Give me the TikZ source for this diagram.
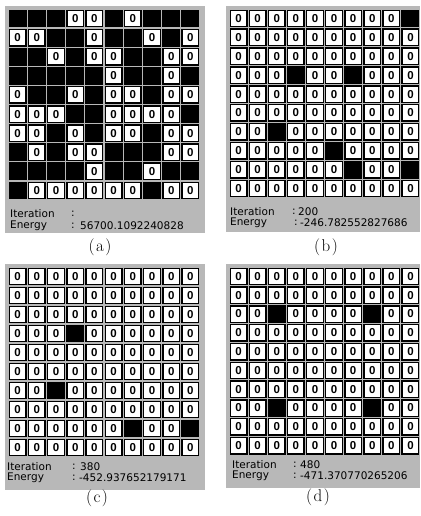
\documentclass[tikz,border=0pt]{standalone}
\usepackage{fontspec}
\newfontfamily\zerofont{Liberation Sans}
\newfontfamily\uifont{DejaVu Sans}
\tikzset{
  panelbg/.style={fill=black!28, draw=none},
  zcell/.style={draw=black, line width=1.4pt, fill=white, inner sep=0pt,
    minimum width=16.6pt, minimum height=16.4pt,
    font=\zerofont\bfseries\fontsize{11.5}{11.5}\selectfont},
  bcell/.style={zcell, fill=black},
  infotext/.style={font=\uifont\fontsize{10.5}{11}\selectfont, inner sep=0pt, anchor=west},
  panellabel/.style={font=\fontsize{17}{19}\selectfont, inner sep=0pt}
}
% #1 name, #2 x0, #3 y0, #4 pitch x, #5 pitch y, #6 rows
\newcommand\drawpanel[6]{%
  \foreach \rowlist [count=\r] in {#6} {
    \foreach \v [count=\c] in \rowlist {
      \ifnum\v=1
        \node[bcell] (#1-\r-\c) at ({#2+(\c-0.5)*#4},{#3+(\r-0.5)*#5}) {};
      \else
        \node[zcell] (#1-\r-\c) at ({#2+(\c-0.5)*#4},{#3+(\r-0.5)*#5}) {0};
      \fi
    }
  }
}
\begin{document}
\begin{tikzpicture}[x=1pt,y=-1pt]
\useasboundingbox (0,0) rectangle (420,516);
\fill[white] (0,0) rectangle (420,516);
% backgrounds
\fill[panelbg] (5,6) rectangle (205,233);
\fill[panelbg] (226,6) rectangle (420,232);
\fill[panelbg] (5,264) rectangle (205,490);
\fill[panelbg] (226,264) rectangle (420,488);
% (a)
\drawpanel{a}{8}{9}{19.2}{19.1}{
 {1,1,1,0,0,1,0,1,1,1},
 {0,0,1,1,0,1,1,0,1,0},
 {1,1,0,1,0,0,1,1,0,0},
 {1,1,1,1,1,0,1,1,0,1},
 {0,1,1,0,1,0,0,1,0,0},
 {0,0,0,1,1,0,0,0,0,1},
 {0,0,1,0,1,0,0,1,0,0},
 {1,0,1,0,0,1,1,1,0,0},
 {1,1,1,1,0,1,1,0,1,1},
 {1,0,0,0,0,0,0,1,0,0}}
% (b)
\drawpanel{b}{229}{9}{19.1}{18.9}{
 {0,0,0,0,0,0,0,0,0,1},
 {0,0,0,0,0,0,0,0,0,0},
 {0,0,0,0,0,0,0,0,0,0},
 {0,0,0,1,0,0,1,0,0,0},
 {0,0,0,0,0,0,0,0,0,0},
 {0,0,0,0,0,0,0,0,0,0},
 {0,0,1,0,0,0,0,0,0,0},
 {0,0,0,0,0,1,0,0,0,0},
 {0,0,0,0,0,0,1,0,0,1},
 {0,0,0,0,0,0,0,0,0,0}}
% (c)
\drawpanel{c}{8}{267}{19.2}{19.0}{
 {0,0,0,0,0,0,0,0,0,0},
 {0,0,0,0,0,0,0,0,0,0},
 {0,0,0,0,0,0,0,0,0,0},
 {0,0,0,1,0,0,0,0,0,0},
 {0,0,0,0,0,0,0,0,0,0},
 {0,0,0,0,0,0,0,0,0,0},
 {0,0,1,0,0,0,0,0,0,0},
 {0,0,0,0,0,0,0,0,0,0},
 {0,0,0,0,0,0,1,0,0,1},
 {0,0,0,0,0,0,0,0,0,0}}
% (d)
\drawpanel{d}{229}{267}{19.1}{18.8}{
 {0,0,0,0,0,0,0,0,0,0},
 {0,0,0,0,0,0,0,0,0,0},
 {0,0,1,0,0,0,0,1,0,0},
 {0,0,0,0,0,0,0,0,0,0},
 {0,0,0,0,0,0,0,0,0,0},
 {0,0,0,0,0,0,0,0,0,0},
 {0,0,0,0,0,0,0,0,0,0},
 {0,0,1,0,0,0,0,1,0,0},
 {0,0,0,0,0,0,0,0,0,0},
 {0,0,0,0,0,0,0,0,0,0}}
% info texts
\node[infotext] (a-it) at (10,214) {Iteration};
\node[infotext] (a-itc) at (71,214) {:};
\node[infotext] (a-en) at (10,226) {Energy};
\node[infotext] (a-enc) at (71,226) {:};
\node[infotext] (a-env) at (80,226) {56700.1092240828};

\node[infotext] (b-it) at (230,212) {Iteration};
\node[infotext] (b-itc) at (292,212) {:};
\node[infotext] (b-itv) at (298,212) {200};
\node[infotext] (b-en) at (230,223) {Energy};
\node[infotext] (b-enc) at (294,223) {:};
\node[infotext] (b-env) at (300,223) {-246.782552827686};

\node[infotext] (c-it) at (7,467) {Iteration};
\node[infotext] (c-itc) at (72,467) {:};
\node[infotext] (c-itv) at (80,467) {380};
\node[infotext] (c-en) at (7,478) {Energy};
\node[infotext] (c-enc) at (72,478) {:};
\node[infotext] (c-env) at (79,478) {-452.937652179171};

\node[infotext] (d-it) at (232,465) {Iteration};
\node[infotext] (d-itc) at (293,465) {:};
\node[infotext] (d-itv) at (300,465) {480};
\node[infotext] (d-en) at (232,476) {Energy};
\node[infotext] (d-enc) at (293,476) {:};
\node[infotext] (d-env) at (300,476) {-471.370770265206};
% labels
\node[panellabel] (la) at (100,247) {(\kern1.5pt a\kern1.5pt)};
\node[panellabel] (lb) at (326,247) {(\kern1.5pt b\kern1.5pt)};
\node[panellabel] (lc) at (97,498) {(\kern1.5pt c\kern1.5pt)};
\node[panellabel] (ld) at (318,497) {(\kern1.5pt d\kern1.5pt)};
\end{tikzpicture}
\end{document}
